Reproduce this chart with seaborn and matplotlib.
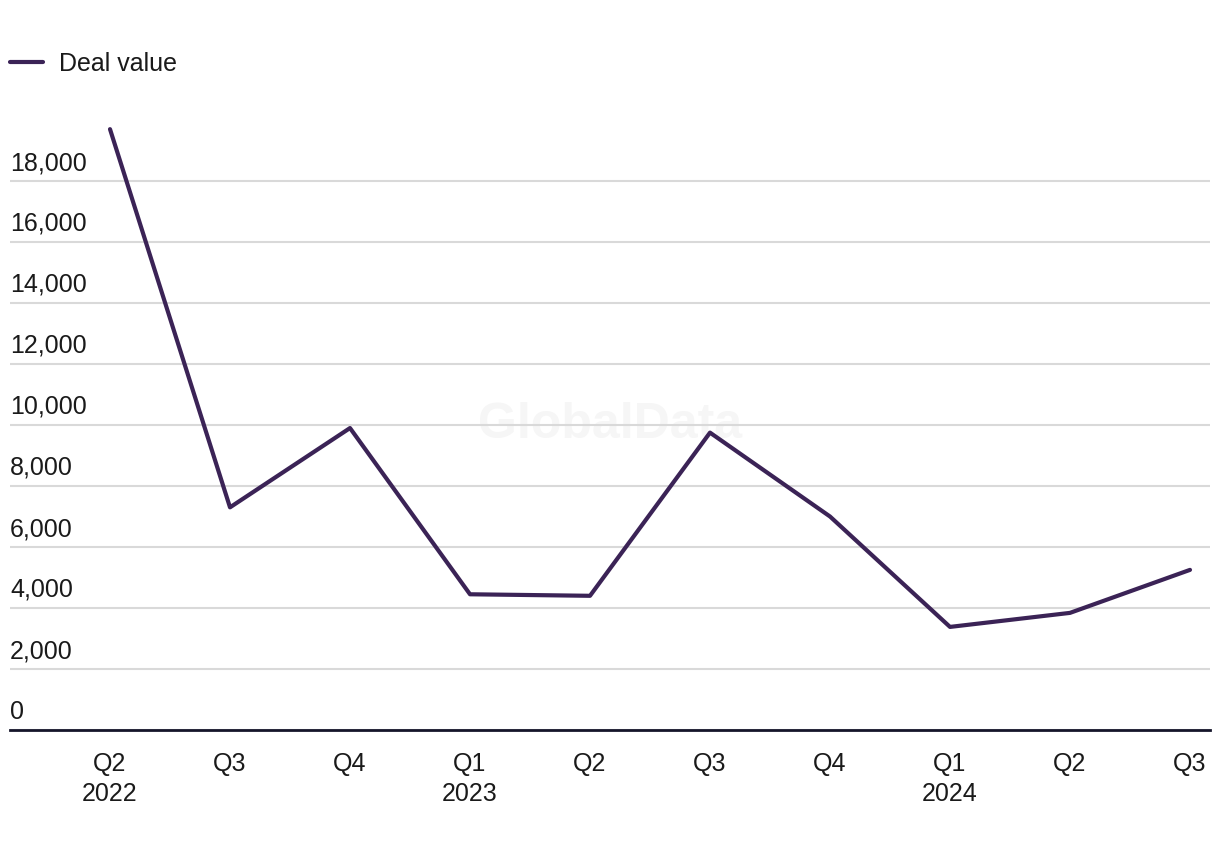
import numpy as np
import pandas as pd
import matplotlib
matplotlib.use("Agg")
import matplotlib.pyplot as plt
import matplotlib.transforms as mtransforms
import seaborn as sns

# quarterly deal value
quarters = ["Q2\n2022", "Q3", "Q4", "Q1\n2023", "Q2", "Q3", "Q4", "Q1\n2024", "Q2", "Q3"]
deal_value = [19700, 7300, 9900, 4450, 4400, 9750, 7000, 3380, 3840, 5250]
yticks = [0, 2000, 4000, 6000, 8000, 10000, 12000, 14000, 16000, 18000]

df = pd.DataFrame({"idx": np.arange(len(quarters)), "value": deal_value})

sns.set_style("white")
plt.rcParams["font.family"] = ["Liberation Sans", "DejaVu Sans"]

fig = plt.figure(figsize=(12.2, 8.5), dpi=100)
ax = fig.add_axes([10 / 1220, 1 - 730 / 850, 1200 / 1220, 610 / 850])

sns.lineplot(data=df, x="idx", y="value", ax=ax, color="#3b2356", linewidth=3,
             label="Deal value")

ax.set_xlim(-100 / 120, 9 + 20 / 120)
ax.set_ylim(0, 20000)
ax.set_xlabel("")
ax.set_ylabel("")

ax.set_xticks(df["idx"])
ax.set_xticklabels(quarters, fontsize=18, color="#1a1a1a", linespacing=1.3)
ax.tick_params(axis="x", length=0, pad=16)

ax.set_yticks(yticks)
ax.set_yticklabels([f"{v:,}" for v in yticks], fontsize=18, color="#1a1a1a")
ax.tick_params(axis="y", length=0, pad=0)
offset = mtransforms.ScaledTranslation(0, 6 / 100, fig.dpi_scale_trans)
for lab in ax.get_yticklabels():
    lab.set_horizontalalignment("left")
    lab.set_verticalalignment("bottom")
    lab.set_transform(lab.get_transform() + offset)

ax.grid(axis="y", color="#d9d9d9", linewidth=1.5)
ax.grid(axis="x", visible=False)
for side in ["top", "right", "left"]:
    ax.spines[side].set_visible(False)
ax.spines["bottom"].set_color("#15152a")
ax.spines["bottom"].set_linewidth(2)
ax.set_axisbelow(True)

# watermark
ax.text(0.5, 0.5, "GlobalData", transform=ax.transAxes, fontsize=36,
        fontweight="bold", color="#f6f6f6", ha="center", va="center", zorder=0)

leg = ax.legend(loc="upper left", bbox_to_anchor=(10 / 1220, 1 - 52 / 850),
                bbox_transform=fig.transFigure,
                frameon=False, fontsize=18, handlelength=1.3, handletextpad=0.65,
                borderaxespad=0, borderpad=0)
for t in leg.get_texts():
    t.set_color("#1a1a1a")

fig.savefig("out.png", dpi=100)
